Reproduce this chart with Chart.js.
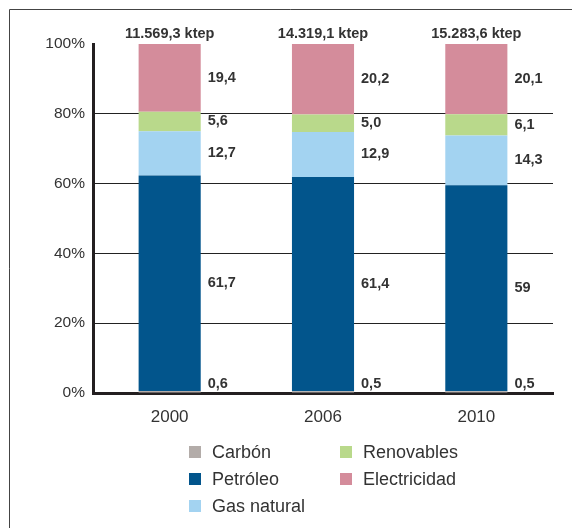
<!DOCTYPE html>
<html>
<head>
<meta charset="utf-8">
<script src="https://cdn.jsdelivr.net/npm/chart.js@4.4.1/dist/chart.umd.min.js"></script>
<style>
  html, body { margin: 0; padding: 0; background: #fff; }
  #wrap { width: 572px; height: 528px; position: relative; }
</style>
</head>
<body>
<div id="wrap"><canvas id="consumo" width="572" height="528"></canvas></div>
<script>
const years = ['2000', '2006', '2010'];
const totals = [11569.3, 14319.1, 15283.6];
const carbon = [0.6, 0.5, 0.5];
const petroleo = [61.7, 61.4, 59];
const gasNatural = [12.7, 12.9, 14.3];
const renovables = [5.6, 5.0, 6.1];
const electricidad = [19.4, 20.2, 20.1];
const yTicks = [0, 20, 40, 60, 80, 100];

const TXT = '#333333';
const FONT = '"Liberation Sans", Arial, sans-serif';

function fmt(v) {
    let s = (Number.isInteger(v) && v >= 10) ? String(v) : v.toFixed(1);
    return s.replace('.', ',');
}
function fmtTotal(n) {
    let parts = n.toFixed(1).split('.');
    let ent = parts[0].replace(/\B(?=(\d{3})+(?!\d))/g, '.');
    return ent + ',' + parts[1] + ' ktep';
}

// frame, value labels, totals and the two-column legend
const extras = {
    id: 'extras',
    beforeDraw(chart) {
        const c = chart.ctx;
        c.save();
        c.strokeStyle = '#444';
        c.lineWidth = 1;
        c.beginPath();
        c.moveTo(9.5, 528);
        c.lineTo(9.5, 9.5);
        c.lineTo(572, 9.5);
        c.stroke();
        c.restore();
    },
    afterDatasetsDraw(chart) {
        const c = chart.ctx;
        c.save();
        c.fillStyle = TXT;
        c.font = 'bold 14.5px ' + FONT;
        c.textAlign = 'left';
        chart.data.datasets.forEach((ds, i) => {
            const meta = chart.getDatasetMeta(i);
            meta.data.forEach((bar, j) => {
                const x = bar.x + bar.width / 2 + 7;
                if (i === 0) {
                    c.textBaseline = 'bottom';
                    c.fillText(fmt(ds.data[j]), x, bar.base - 1);
                } else {
                    c.textBaseline = 'middle';
                    c.fillText(fmt(ds.data[j]), x, (bar.y + bar.base) / 2);
                }
            });
        });
        // totals above bars
        const top = chart.getDatasetMeta(chart.data.datasets.length - 1);
        c.textAlign = 'center';
        c.textBaseline = 'bottom';
        top.data.forEach((bar, j) => {
            c.fillText(fmtTotal(totals[j]), bar.x, bar.y - 3);
        });
        c.restore();
    },
    afterDraw(chart) {
        const c = chart.ctx;
        const cols = [[0, 1, 2], [3, 4]];
        const colX = [189, 340];
        const rowY = [452, 479, 506];
        c.save();
        c.font = '18px ' + FONT;
        c.textAlign = 'left';
        c.textBaseline = 'middle';
        cols.forEach((col, ci) => {
            col.forEach((di, ri) => {
                const ds = chart.data.datasets[di];
                c.fillStyle = ds.backgroundColor;
                c.fillRect(colX[ci], rowY[ri] - 6, 12, 12);
                c.fillStyle = TXT;
                c.fillText(ds.label, colX[ci] + 23, rowY[ri] + 1);
            });
        });
        c.restore();
    }
};

new Chart(document.getElementById('consumo'), {
    type: 'bar',
    data: {
        labels: years,
        datasets: [
            { label: 'Carbón', data: carbon, backgroundColor: '#b3aca9' },
            { label: 'Petróleo', data: petroleo, backgroundColor: '#02558c' },
            { label: 'Gas natural', data: gasNatural, backgroundColor: '#a3d3f1' },
            { label: 'Renovables', data: renovables, backgroundColor: '#b9d98b' },
            { label: 'Electricidad', data: electricidad, backgroundColor: '#d48c9b' }
        ]
    },
    options: {
        responsive: false,
        animation: false,
        datasets: { bar: { barPercentage: 0.405, categoryPercentage: 1, borderWidth: 0 } },
        layout: { padding: { left: 0, right: 19, top: 44, bottom: 0 } },
        plugins: {
            legend: { display: false },
            tooltip: { enabled: false }
        },
        scales: {
            x: {
                stacked: true,
                grid: { display: false },
                border: { display: true, color: '#231f20', width: 3 },
                ticks: { color: TXT, font: { family: FONT, size: 17 }, padding: 6 },
                afterFit(s) { s.height = 135; }
            },
            y: {
                stacked: true,
                min: 0,
                max: 100,
                afterBuildTicks(s) { s.ticks = yTicks.map(v => ({ value: v })); },
                grid: {
                    drawTicks: false,
                    color: ctx => (ctx.tick && (ctx.tick.value === 0 || ctx.tick.value === 100)) ? 'rgba(0,0,0,0)' : '#222',
                    lineWidth: 1
                },
                border: { display: true, color: '#231f20', width: 3 },
                ticks: {
                    color: TXT,
                    font: { family: FONT, size: 15.5 },
                    padding: 8,
                    callback: v => v + '%'
                },
                afterFit(s) { s.width = 93; }
            }
        }
    },
    plugins: [extras]
});
</script>
</body>
</html>
